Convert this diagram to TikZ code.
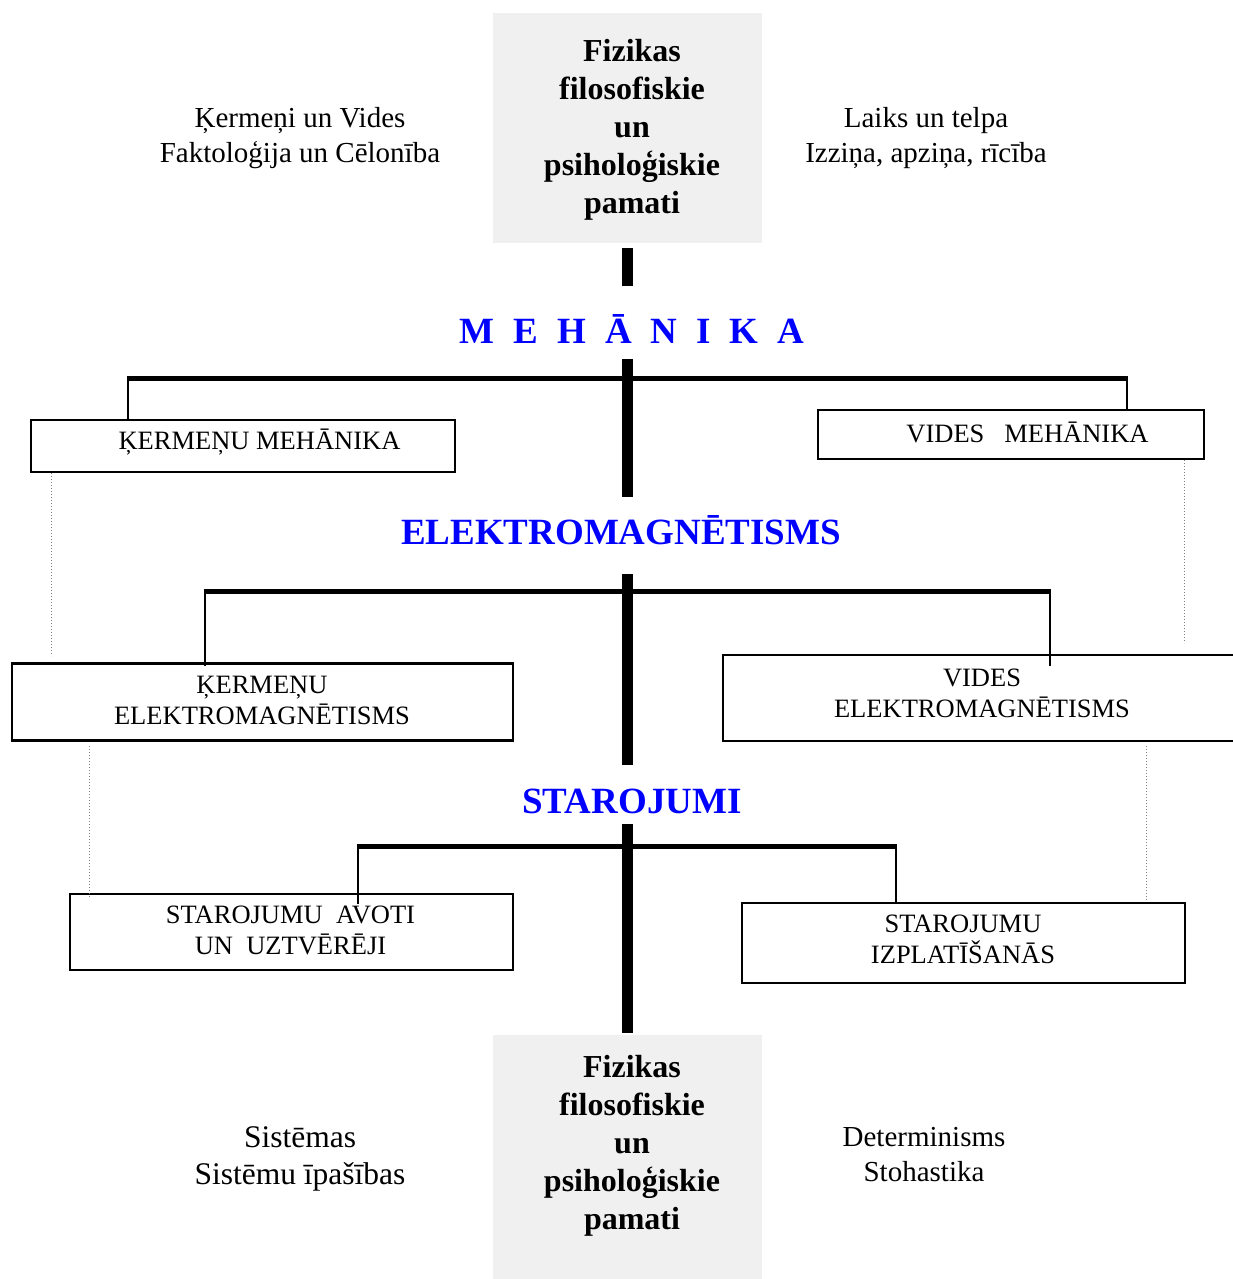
\documentclass[tikz,border=0pt]{standalone}
\usepackage{fontspec}
\setmainfont{Liberation Serif}
\definecolor{boxgrey}{RGB}{240,240,240}
\definecolor{titleblue}{RGB}{0,0,255}
\begin{document}
\begin{tikzpicture}[x=1pt,y=-1pt,
  greybox/.style={fill=boxgrey, draw=none, minimum width=269pt, inner sep=0pt},
  bigtxt/.style={font=\fontsize{32}{38}\selectfont\bfseries, align=center, inner sep=0pt},
  sidetxt/.style={font=\fontsize{29}{35}\selectfont, align=center, inner sep=0pt},
  title/.style={font=\fontsize{37}{40}\selectfont\bfseries, text=titleblue, inner sep=0pt},
  frame/.style={draw, line width=2.5pt, inner sep=0pt},
  frametxt/.style={align=center, inner sep=0pt, font=\fontsize{26.5}{31}\selectfont},
  spine/.style={line width=11pt},
  bar/.style={line width=5pt},
  drop/.style={line width=2.8pt},
  dots/.style={dotted, line width=1pt, gray}
]
\useasboundingbox (0,0) rectangle (1232,1279);

% grey boxes
\node[greybox, minimum height=230pt] (topbox) at (627.5,128) {};
\node[bigtxt] (toptxt) at (632,129.5) {Fizikas\\filosofiskie\\un\\psiholoģiskie\\pamati};
\node[greybox, minimum height=244pt] (botbox) at (627.5,1157) {};
\node[bigtxt] (bottxt) at (632,1146) {Fizikas\\filosofiskie\\un\\psiholoģiskie\\pamati};

% side texts
\node[sidetxt] (tl) at (300,138) {Ķermeņi un Vides\\Faktoloģija un Cēlonība};
\node[sidetxt] (tr) at (926,138) {Laiks un telpa\\Izziņa, apziņa, rīcība};
\node[sidetxt, font=\fontsize{31.5}{37}\selectfont] (bl) at (300,1159) {Sistēmas\\Sistēmu īpašības};
\node[sidetxt] (br) at (924,1155) {Determinisms\\Stohastika};

% titles
\node[title] (mech) at (632,329) {\spaceskip=19pt M E H Ā N I K A};
\node[title] (elm) at (621,530) {ELEKTROMAGNĒTISMS};
\node[title] (star) at (632,801) {STAROJUMI};

% boxes
\node[frame, minimum width=424pt, minimum height=52pt] (km) at (243,446) {};
\node[frametxt] (kmt) at (259.5,442) {ĶERMEŅU MEHĀNIKA};
\node[frame, minimum width=386pt, minimum height=49pt] (vm) at (1011,434.5) {};
\node[frametxt] (vmt) at (1027.5,432) {VIDES\ \ \ MEHĀNIKA};
\node[frame, minimum width=501pt, minimum height=77pt] (ke) at (262.5,702) {};
\node[frametxt] (ket) at (262,700.5) {ĶERMEŅU\\ELEKTROMAGNĒTISMS};
\node[frame, minimum width=517pt, minimum height=86pt] (ve) at (981.5,698) {};
\node[frametxt] (vet) at (982,693) {VIDES\\ELEKTROMAGNĒTISMS};
\node[frame, minimum width=443pt, minimum height=76pt] (sa) at (291.5,932) {};
\node[frametxt] (sat) at (290.5,930) {STAROJUMU\ \ AVOTI\\UN\ \ UZTVĒRĒJI};
\node[frame, minimum width=443pt, minimum height=80pt] (si) at (963.5,943) {};
\node[frametxt] (sit) at (963,939) {STAROJUMU\\IZPLATĪŠANĀS};

% spine coordinates
\coordinate (s1a) at (627.5,248);
\coordinate (s1b) at (627.5,286);
\coordinate (s2a) at (627.5,359);
\coordinate (s2b) at (627.5,497);
\coordinate (s3a) at (627.5,574);
\coordinate (s3b) at (627.5,765);
\coordinate (s4a) at (627.5,824);
\coordinate (s4b) at (627.5,1033);
\draw[spine] (s1a) -- (s1b);
\draw[spine] (s2a) -- (s2b);
\draw[spine] (s3a) -- (s3b);
\draw[spine] (s4a) -- (s4b);

% bars
\coordinate (b1l) at (128,378);
\coordinate (b1r) at (1127,378);
\coordinate (b2l) at (205,591);
\coordinate (b2r) at (1050,591);
\coordinate (b3l) at (358,846);
\coordinate (b3r) at (896,846);
\draw[bar] ([xshift=-1.4pt]b1l) -- ([xshift=1.4pt]b1r);
\draw[bar] ([xshift=-1.4pt]b2l) -- ([xshift=1.4pt]b2r);
\draw[bar] ([xshift=-1.4pt]b3l) -- ([xshift=1.4pt]b3r);
\draw[drop] (b1l) -- (b1l |- km.north);
\draw[drop] (b1r) -- (b1r |- vm.north);
\draw[drop] (b2l) -- ([yshift=-4pt]b2l |- ke.north);
\draw[drop] (b2r) -- ([yshift=-12pt]b2r |- ve.north);
\draw[drop] (b3l) -- ([yshift=-11pt]b3l |- sa.north);
\draw[drop] (b3r) -- (b3r |- si.north);

% dotted links
\coordinate (d1a) at (51,473);   \coordinate (d1b) at (51,656);
\coordinate (d2a) at (1184,460); \coordinate (d2b) at (1184,643);
\coordinate (d3a) at (89,746);   \coordinate (d3b) at (89,898);
\coordinate (d4a) at (1146,746); \coordinate (d4b) at (1146,900);
\draw[dots] (d1a) -- (d1b);
\draw[dots] (d2a) -- (d2b);
\draw[dots] (d3a) -- (d3b);
\draw[dots] (d4a) -- (d4b);
\end{tikzpicture}
\end{document}
